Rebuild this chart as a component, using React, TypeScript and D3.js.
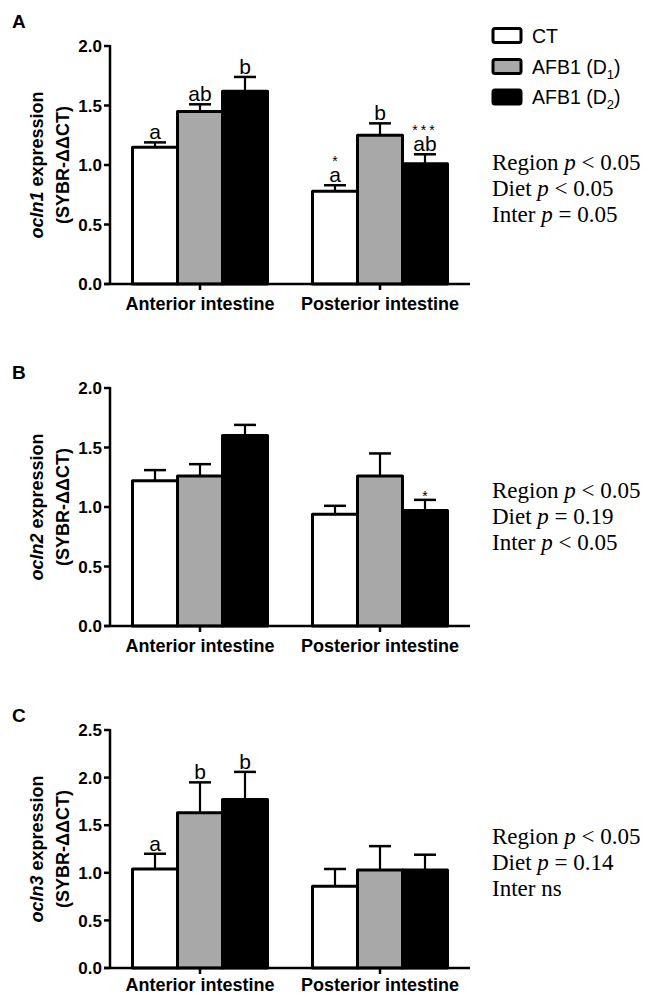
import React from "react";
import * as d3 from "d3";

const categories = ["Anterior intestine", "Posterior intestine"];
const series = ["CT", "AFB1 (D1)", "AFB1 (D2)"];
const seriesFill = ["#ffffff", "#a8a8a8", "#000000"];

// panel A: ocln1
const ocln1Means = [[1.15, 1.45, 1.62], [0.78, 1.25, 1.01]];
const ocln1Err = [[0.04, 0.06, 0.12], [0.05, 0.1, 0.08]];
const ocln1Letters = [["a", "ab", "b"], ["a", "b", "ab"]];
const ocln1Stars = [["", "", ""], ["*", "", "***"]];
const ocln1Stats = [["Region", "< 0.05"], ["Diet", "< 0.05"], ["Inter", "= 0.05"]];

// panel B: ocln2
const ocln2Means = [[1.22, 1.26, 1.6], [0.94, 1.26, 0.97]];
const ocln2Err = [[0.09, 0.1, 0.09], [0.07, 0.19, 0.09]];
const ocln2Letters = [["", "", ""], ["", "", ""]];
const ocln2Stars = [["", "", ""], ["", "", "*"]];
const ocln2Stats = [["Region", "< 0.05"], ["Diet", "= 0.19"], ["Inter", "< 0.05"]];

// panel C: ocln3
const ocln3Means = [[1.04, 1.63, 1.77], [0.86, 1.03, 1.03]];
const ocln3Err = [[0.16, 0.32, 0.29], [0.18, 0.25, 0.16]];
const ocln3Letters = [["a", "b", "b"], ["", "", ""]];
const ocln3Stars = [["", "", ""], ["", "", ""]];
const ocln3Stats = [["Region", "< 0.05"], ["Diet", "= 0.14"], ["Inter ns", ""]];

const yTicksAB = [0, 0.5, 1.0, 1.5, 2.0];
const yTicksC = [0, 0.5, 1.0, 1.5, 2.0, 2.5];

const SANS = "Arial, 'Liberation Sans', Helvetica, sans-serif";
const SERIF = "'Times New Roman', 'Liberation Serif', Times, serif";

const panels = [
  { label: "A", gene: "ocln1", means: ocln1Means, err: ocln1Err, letters: ocln1Letters, stars: ocln1Stars, stats: ocln1Stats, ticks: yTicksAB, max: 2.0, top: 46, labelY: 28, statsY: 170, xDy: 26 },
  { label: "B", gene: "ocln2", means: ocln2Means, err: ocln2Err, letters: ocln2Letters, stars: ocln2Stars, stats: ocln2Stats, ticks: yTicksAB, max: 2.0, top: 388, labelY: 379, statsY: 498, xDy: 26 },
  { label: "C", gene: "ocln3", means: ocln3Means, err: ocln3Err, letters: ocln3Letters, stars: ocln3Stars, stats: ocln3Stats, ticks: yTicksC, max: 2.5, top: 730, labelY: 722, statsY: 844, xDy: 23 },
];

const AXIS_X = 110;
const AXIS_END = 470;
const PLOT_H = 238;

function Panel({ p }: { p: any }) {
  const y = d3.scaleLinear().domain([0, p.max]).range([p.top + PLOT_H, p.top]);
  const x = d3.scalePoint().domain(categories).range([AXIS_X, AXIS_END]).padding(0.5);
  const inner = d3.scaleBand().domain(series).range([-67.5, 67.5]);
  const bw = inner.bandwidth();
  const y0 = y(0);
  const fmt = d3.format(".1f");
  const midY = (y(0) + y(p.max)) / 2;

  return (
    <g>
      <text x={12} y={p.labelY} fontFamily={SANS} fontWeight="bold" fontSize={19}>{p.label}</text>
      {/* y label */}
      <g transform={`translate(43,${midY}) rotate(-90)`}>
        <text textAnchor="middle" fontFamily={SANS} fontWeight="bold" fontSize={18}>
          <tspan fontStyle="italic">{p.gene}</tspan>
          <tspan> expression</tspan>
        </text>
      </g>
      <g transform={`translate(69,${midY}) rotate(-90)`}>
        <text textAnchor="middle" fontFamily={SANS} fontWeight="bold" fontSize={18}>(SYBR-ΔΔCT)</text>
      </g>
      {/* bars */}
      {categories.map((c, ci) =>
        series.map((s, si) => {
          const m = p.means[ci][si];
          const e = p.err[ci][si];
          const bx = (x(c) as number) + (inner(s) as number);
          const cx = bx + bw / 2;
          const yTop = y(m);
          const yCap = y(m + e);
          return (
            <g key={c + s}>
              <line x1={cx} x2={cx} y1={yTop} y2={yCap} stroke="#000" strokeWidth={2.2} />
              <line x1={cx - 11} x2={cx + 11} y1={yCap} y2={yCap} stroke="#000" strokeWidth={2.5} />
              <rect x={bx} y={yTop} width={bw} height={y0 - yTop} fill={seriesFill[si]} stroke="#000" strokeWidth={3} strokeLinejoin="round" />
              {p.letters[ci][si] && (
                <text x={cx} y={yCap - 3} textAnchor="middle" fontFamily={SANS} fontSize={21}>{p.letters[ci][si]}</text>
              )}
              {p.stars[ci][si] && (
                <text x={cx} y={p.letters[ci][si] ? yCap - 19 : yCap + 1} textAnchor="middle" fontFamily={SANS} fontSize={14} letterSpacing={p.stars[ci][si].length > 1 ? 3 : 0}>{p.stars[ci][si]}</text>
              )}
            </g>
          );
        })
      )}
      {/* y axis */}
      <line x1={AXIS_X} x2={AXIS_X} y1={y(p.max) - 1} y2={y0} stroke="#000" strokeWidth={2.5} />
      {p.ticks.map((t: number) => (
        <g key={t}>
          <line x1={AXIS_X - 6} x2={AXIS_X} y1={y(t)} y2={y(t)} stroke="#000" strokeWidth={2.5} />
          <text x={102} y={y(t)} dy="0.36em" textAnchor="end" fontFamily={SANS} fontWeight="bold" fontSize={17}>{fmt(t)}</text>
        </g>
      ))}
      {/* x axis */}
      <line x1={AXIS_X - 6} x2={AXIS_END} y1={y0} y2={y0} stroke="#000" strokeWidth={2.5} />
      {categories.map((c) => (
        <g key={c}>
          <line x1={x(c)} x2={x(c)} y1={y0} y2={y0 + 6} stroke="#000" strokeWidth={2.5} />
          <text x={x(c)} y={y0 + p.xDy} textAnchor="middle" fontFamily={SANS} fontWeight="bold" fontSize={18}>{c}</text>
        </g>
      ))}
      {/* stats */}
      {p.stats.map((st: string[], i: number) => (
        <text key={i} x={492} y={p.statsY + i * 26} fontFamily={SERIF} fontSize={23}>
          {st[0]}
          {st[1] && (
            <>
              <tspan> </tspan>
              <tspan fontStyle="italic">p</tspan>
              <tspan> {st[1]}</tspan>
            </>
          )}
        </text>
      ))}
    </g>
  );
}

function Legend() {
  const rowY = [35.5, 66.5, 97];
  return (
    <g>
      {series.map((s, i) => {
        const m = s.match(/^(.*\(D)(\d)(\))$/);
        return (
          <g key={s}>
            <rect x={493} y={rowY[i] - 7} width={28} height={14} fill={seriesFill[i]} stroke="#000" strokeWidth={3} rx={2} strokeLinejoin="round" />
            <text x={532} y={rowY[i] + 7} fontFamily={SANS} fontSize={19.5}>
              {m ? (
                <>
                  {m[1]}
                  <tspan fontSize={13} dy={5}>{m[2]}</tspan>
                  <tspan dy={-5}>{m[3]}</tspan>
                </>
              ) : s}
            </text>
          </g>
        );
      })}
    </g>
  );
}

export default function App() {
  return (
    <svg width={647} height={997} style={{ position: "absolute", left: 0, top: 0, background: "#fff" }}>
      <rect width={647} height={997} fill="#fff" />
      {panels.map((p) => (
        <Panel key={p.label} p={p} />
      ))}
      <Legend />
    </svg>
  );
}
